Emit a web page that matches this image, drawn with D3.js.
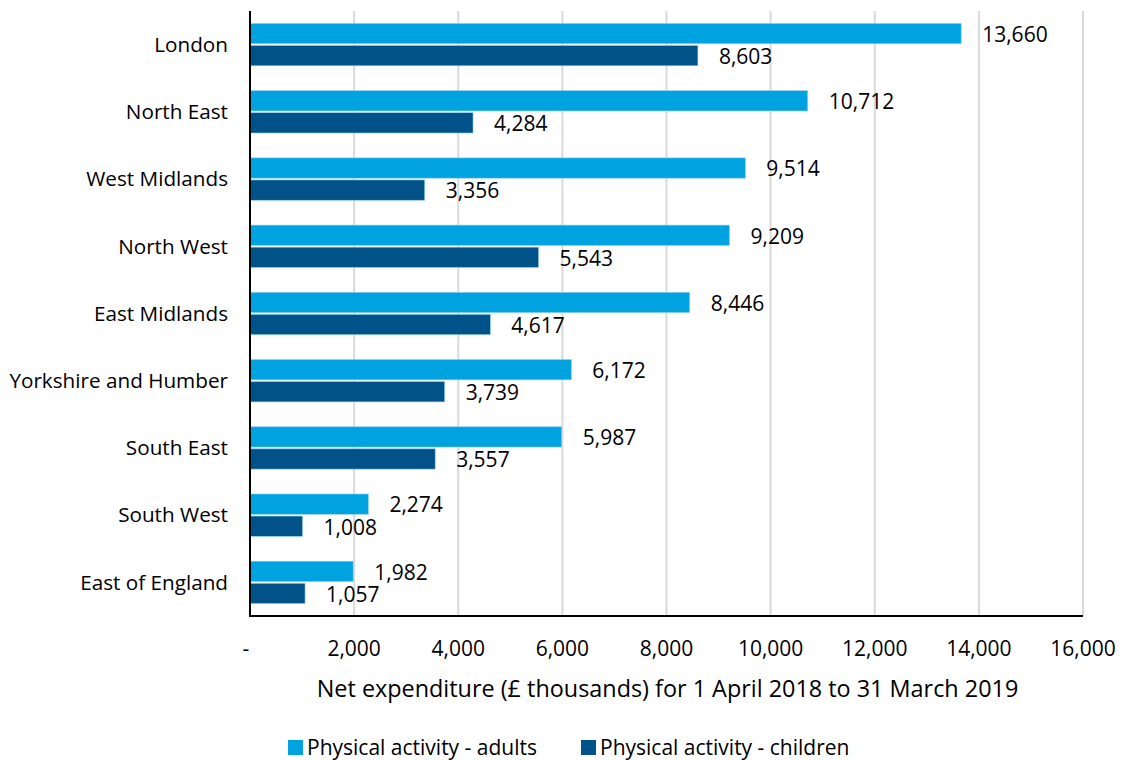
<!DOCTYPE html>
<html>
<head>
<meta charset="utf-8">
<script src="https://cdn.jsdelivr.net/npm/d3@7"></script>
<style>
  body { margin: 0; background: #fff; }
  text { font-family: "Open Sans", "Noto Sans", sans-serif; fill: #000; }
</style>
</head>
<body>
<svg id="chart" width="1124" height="760"></svg>
<script>
// regions, top to bottom
var regions = ['London', 'North East', 'West Midlands', 'North West', 'East Midlands',
               'Yorkshire and Humber', 'South East', 'South West', 'East of England'];
var adults   = [13660, 10712, 9514, 9209, 8446, 6172, 5987, 2274, 1982];
var children = [8603, 4284, 3356, 5543, 4617, 3739, 3557, 1008, 1057];
var seriesNames = ['Physical activity - adults', 'Physical activity - children'];
var seriesColors = ['#00a3e0', '#005289'];
var xTicks = [0, 2000, 4000, 6000, 8000, 10000, 12000, 14000, 16000];
var axisTitle = 'Net expenditure (\u00a3 thousands) for 1 April 2018 to 31 March 2019';

(function(){
    'use strict';

    var svg = d3.select('#chart');
    var mLeft = 250, mRight = 1083, mTop = 11, mBottom = 616;

    var x = d3.scaleLinear().domain([0, 16000]).range([mLeft, mRight]);
    var y = d3.scaleBand().domain(regions).range([mTop, mBottom]).paddingInner(0.37).paddingOuter(0.185);
    var sub = d3.scaleBand().domain([0, 1]).range([0, y.bandwidth()]).paddingInner(0.08);

    var fmt = d3.format(',');

    // gridlines
    svg.append('g').selectAll('line')
        .data(xTicks.slice(1))
        .join('line')
        .attr('x1', function(d){ return x(d); })
        .attr('x2', function(d){ return x(d); })
        .attr('y1', mTop).attr('y2', mBottom)
        .attr('stroke', '#d9d9d9').attr('stroke-width', 2);

    var rows = regions.map(function(r, i){ return { region: r, vals: [adults[i], children[i]] }; });

    var grp = svg.append('g').selectAll('g')
        .data(rows)
        .join('g')
        .attr('transform', function(d){ return 'translate(0,' + y(d.region) + ')'; });

    grp.selectAll('rect')
        .data(function(d){ return d.vals; })
        .join('rect')
        .attr('x', x(0))
        .attr('y', function(d, i){ return sub(i); })
        .attr('width', function(d){ return x(d) - x(0); })
        .attr('height', sub.bandwidth())
        .attr('fill', function(d, i){ return seriesColors[i]; })
        .attr('stroke', '#8fd0ee').attr('stroke-width', 0.6);

    grp.selectAll('text.val')
        .data(function(d){ return d.vals; })
        .join('text')
        .attr('class', 'val')
        .attr('x', function(d){ return x(d) + 21; })
        .attr('y', function(d, i){ return sub(i) + sub.bandwidth() / 2 + 1; })
        .attr('dy', '0.35em')
        .style('font-size', '21px')
        .text(function(d){ return fmt(d); });

    // category labels
    svg.append('g').selectAll('text')
        .data(regions)
        .join('text')
        .attr('x', 228)
        .attr('y', function(d){ return y(d) + y.bandwidth() / 2; })
        .attr('dy', '0.35em')
        .attr('text-anchor', 'end')
        .style('font-size', '20.7px')
        .text(function(d){ return d; });

    // axis lines
    svg.append('line').attr('x1', mLeft).attr('x2', mLeft).attr('y1', mTop).attr('y2', mBottom)
        .attr('stroke', '#000').attr('stroke-width', 2);
    svg.append('line').attr('x1', mLeft - 1).attr('x2', mRight).attr('y1', mBottom).attr('y2', mBottom)
        .attr('stroke', '#000').attr('stroke-width', 2);

    // x tick labels
    svg.append('g').selectAll('text')
        .data(xTicks)
        .join('text')
        .attr('x', function(d){ return d === 0 ? x(d) - 4 : x(d); })
        .attr('y', 649)
        .attr('dy', '0.35em')
        .attr('text-anchor', 'middle')
        .style('font-size', '21px')
        .text(function(d){ return d === 0 ? '-' : fmt(d); });

    svg.append('text')
        .attr('x', (mLeft + mRight) / 2 + 1)
        .attr('y', 689)
        .attr('dy', '0.35em')
        .attr('text-anchor', 'middle')
        .style('font-size', '23.4px')
        .text(axisTitle);

    // legend
    var legendX = [288, 581];
    var leg = svg.append('g').selectAll('g')
        .data(seriesNames)
        .join('g')
        .attr('transform', function(d, i){ return 'translate(' + legendX[i] + ',740)'; });
    leg.append('rect').attr('width', 15).attr('height', 15)
        .attr('fill', function(d, i){ return seriesColors[i]; });
    leg.append('text').attr('x', 19).attr('y', 8).attr('dy', '0.35em')
        .style('font-size', '21px')
        .text(function(d){ return d; });
}());
</script>
</body>
</html>
